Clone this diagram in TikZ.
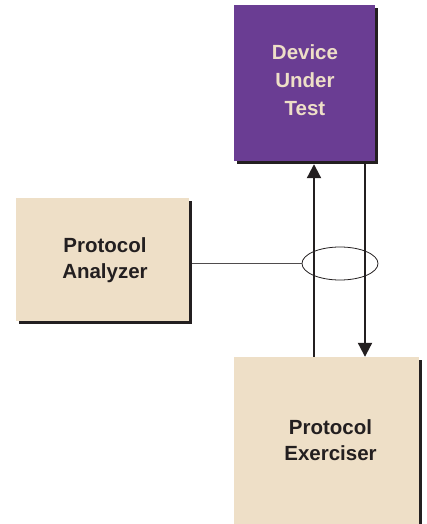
\documentclass[tikz,border=0pt]{standalone}
\usepackage{fontspec}
\setmainfont{Liberation Sans}
\usetikzlibrary{shapes.geometric,arrows.meta,shadows}
\definecolor{dutpurple}{HTML}{6A3D93}
\definecolor{cream}{HTML}{EEDFC7}
\definecolor{ink}{HTML}{231F20}
\begin{document}
\begin{tikzpicture}[x=1pt,y=-1pt,
  box/.style={rectangle, inner sep=0pt, align=center, font=\fontsize{20.5}{25.5}\selectfont\bfseries,
    drop shadow={shadow xshift=3pt, shadow yshift=-3pt, fill=ink, opacity=1}},
  arr/.style={draw=ink, line width=2.1pt, -{Triangle[width=14pt,length=14pt]}},
  thin/.style={draw=ink, line width=0.8pt}]
\useasboundingbox (0,0) rectangle (427,524);
\node[box, fill=dutpurple, text=cream, minimum width=141pt, minimum height=156pt,
  font=\fontsize{20.5}{28}\selectfont\bfseries] (dut) at (304.5,83) {};
\node[text=cream, align=center, inner sep=0pt, font=\fontsize{20.5}{28}\selectfont\bfseries] (dutlabel) at (305,80) {Device\\Under\\Test};
\node[box, fill=cream, text=ink, minimum width=173pt, minimum height=123pt] (pa) at (102.5,259.5) {};
\node[text=ink, align=center, inner sep=0pt, font=\fontsize{20.5}{25.5}\selectfont\bfseries] (palabel) at (105,260) {Protocol\\Analyzer};
\node[box, fill=cream, text=ink, minimum width=185pt, minimum height=167pt] (pe) at (326.5,440.5) {};
\node[text=ink, align=center, inner sep=0pt, font=\fontsize{20.5}{25.5}\selectfont\bfseries] (pelabel) at (330.5,440) {Protocol\\Exerciser};
\node[ellipse, thin, inner sep=0pt, minimum width=76pt, minimum height=33pt] (ell) at (340,263.5) {};
\coordinate (upx) at (314,0);
\coordinate (dnx) at (365,0);
\draw[arr] (pe.north -| upx) -- ([yshift=-3pt]dut.south -| upx);
\draw[arr] ([yshift=-3pt]dut.south -| dnx) -- (pe.north -| dnx);
\draw[draw=ink!80, line width=0.8pt] ([xshift=3pt]pa.east |- ell.west) -- (ell.west);
\end{tikzpicture}
\end{document}
